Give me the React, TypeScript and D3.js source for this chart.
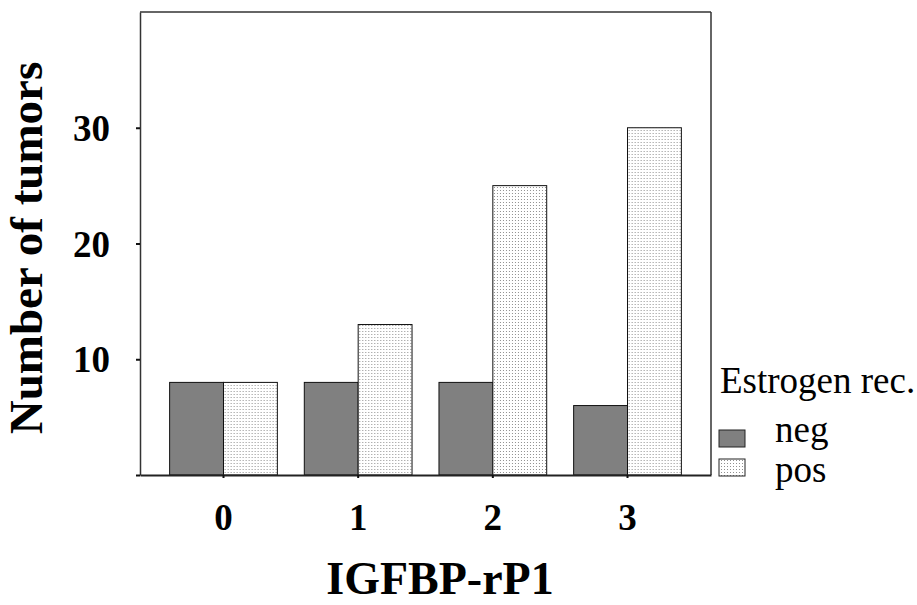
import React, { useEffect, useRef } from 'react';
import * as d3 from 'd3';

// values
const categories = ['0', '1', '2', '3'];
const groups = ['neg', 'pos'];
const negValues = [8, 8, 8, 6];
const posValues = [8, 13, 25, 30];
const yTicks = [0, 10, 20, 30];
const yTickLabels = ['', '10', '20', '30'];
const legendLabels = ['neg', 'pos'];

const WIDTH = 917;
const HEIGHT = 605;
const FONT = '"Liberation Serif", "Times New Roman", serif';

const App: React.FC = () => {
  const svgRef = useRef<SVGSVGElement>(null);

  useEffect(() => {
    if (!svgRef.current) return;
    const margin = { top: 12, right: 206, bottom: 130, left: 140 };
    const innerW = WIDTH - margin.left - margin.right;
    const innerH = HEIGHT - margin.top - margin.bottom;

    d3.select(svgRef.current).selectAll('*').remove();

    const root = d3
      .select(svgRef.current)
      .attr('width', WIDTH)
      .attr('height', HEIGHT)
      .attr('font-family', FONT);

    // stippled fill for the "pos" bars
    const defs = root.append('defs');
    const pat = defs
      .append('pattern')
      .attr('id', 'dots')
      .attr('patternUnits', 'userSpaceOnUse')
      .attr('width', 3)
      .attr('height', 3);
    pat.append('rect').attr('width', 3).attr('height', 3).attr('fill', '#ffffff');
    pat.append('rect').attr('x', 1).attr('y', 1).attr('width', 1).attr('height', 1).attr('fill', '#909090');

    const fills: { [k: string]: string } = { neg: '#808080', pos: 'url(#dots)' };

    const svg = root.append('g').attr('transform', `translate(${margin.left}, ${margin.top})`);

    const x0 = d3.scaleBand<string>().domain(categories).range([0, innerW]).paddingInner(0.2).paddingOuter(0.22);
    const x1 = d3.scaleBand<string>().domain(groups).range([0, x0.bandwidth()]);
    const y = d3.scaleLinear().domain([0, 40]).range([innerH, 0]);

    // bars
    categories.forEach((c, i) => {
      const g = svg.append('g').attr('transform', `translate(${x0(c)}, 0)`);
      const vals = [negValues[i], posValues[i]];
      groups.forEach((grp, j) => {
        g.append('rect')
          .attr('x', x1(grp)!)
          .attr('y', y(vals[j]))
          .attr('width', x1.bandwidth())
          .attr('height', y(0) - y(vals[j]))
          .attr('fill', fills[grp])
          .attr('stroke', '#111')
          .attr('stroke-width', 1);
      });
    });

    // frame: top and right
    svg.append('line').attr('x1', 0).attr('x2', innerW).attr('y1', 0).attr('y2', 0).attr('stroke', '#333').attr('stroke-width', 1.5);
    svg.append('line').attr('x1', innerW).attr('x2', innerW).attr('y1', 0).attr('y2', innerH).attr('stroke', '#333').attr('stroke-width', 1.5);

    // y axis
    const yAxis = svg
      .append('g')
      .call(d3.axisLeft(y).tickValues(yTicks).tickSize(4).tickSizeOuter(0).tickFormat((d, i) => yTickLabels[i]));
    yAxis.attr('font-family', FONT);
    yAxis.select('.domain').attr('stroke', '#333').attr('stroke-width', 1.5);
    yAxis.selectAll('.tick line').attr('stroke', '#111').attr('stroke-width', 2);
    yAxis
      .selectAll('.tick text')
      .attr('x', -30)
      .attr('dy', '0.34em')
      .attr('font-size', 37)
      .attr('font-weight', 'bold')
      .attr('fill', '#000');

    // x axis
    const xAxis = svg
      .append('g')
      .attr('transform', `translate(0, ${innerH})`)
      .call(d3.axisBottom(x0).tickSize(3).tickSizeOuter(0));
    xAxis.attr('font-family', FONT);
    xAxis.select('.domain').attr('stroke', '#222').attr('stroke-width', 2);
    xAxis.selectAll('.tick line').attr('stroke', '#111').attr('stroke-width', 2);
    xAxis
      .selectAll('.tick text')
      .attr('y', 55)
      .attr('dy', 0)
      .attr('font-size', 37)
      .attr('font-weight', 'bold')
      .attr('fill', '#000');

    // axis titles
    root
      .append('text')
      .attr('transform', `translate(42, 248) rotate(-90)`)
      .attr('text-anchor', 'middle')
      .attr('font-size', 47)
      .attr('font-weight', 'bold')
      .text('Number of tumors');

    root
      .append('text')
      .attr('x', 440)
      .attr('y', 594)
      .attr('text-anchor', 'middle')
      .attr('font-size', 46)
      .attr('font-weight', 'bold')
      .text('IGFBP-rP1');

    // legend
    const legend = root.append('g').attr('font-family', FONT);
    legend.append('text').attr('x', 720).attr('y', 393).attr('font-size', 37).text('Estrogen rec.');
    const swatchY = [430, 459];
    const labelY = [442, 482];
    legendLabels.forEach((lab, i) => {
      legend
        .append('rect')
        .attr('x', 719)
        .attr('y', swatchY[i])
        .attr('width', 26)
        .attr('height', 17)
        .attr('fill', fills[lab])
        .attr('stroke', '#222')
        .attr('stroke-width', 1);
      legend
        .append('text')
        .attr('x', 775)
        .attr('y', labelY[i])
        .attr('font-size', 37)
        .text(lab);
    });
  }, []);

  return (
    <div style={{ position: 'absolute', left: 0, top: 0, width: WIDTH, height: HEIGHT, background: '#fff' }}>
      <svg ref={svgRef}></svg>
    </div>
  );
};

export default App;
